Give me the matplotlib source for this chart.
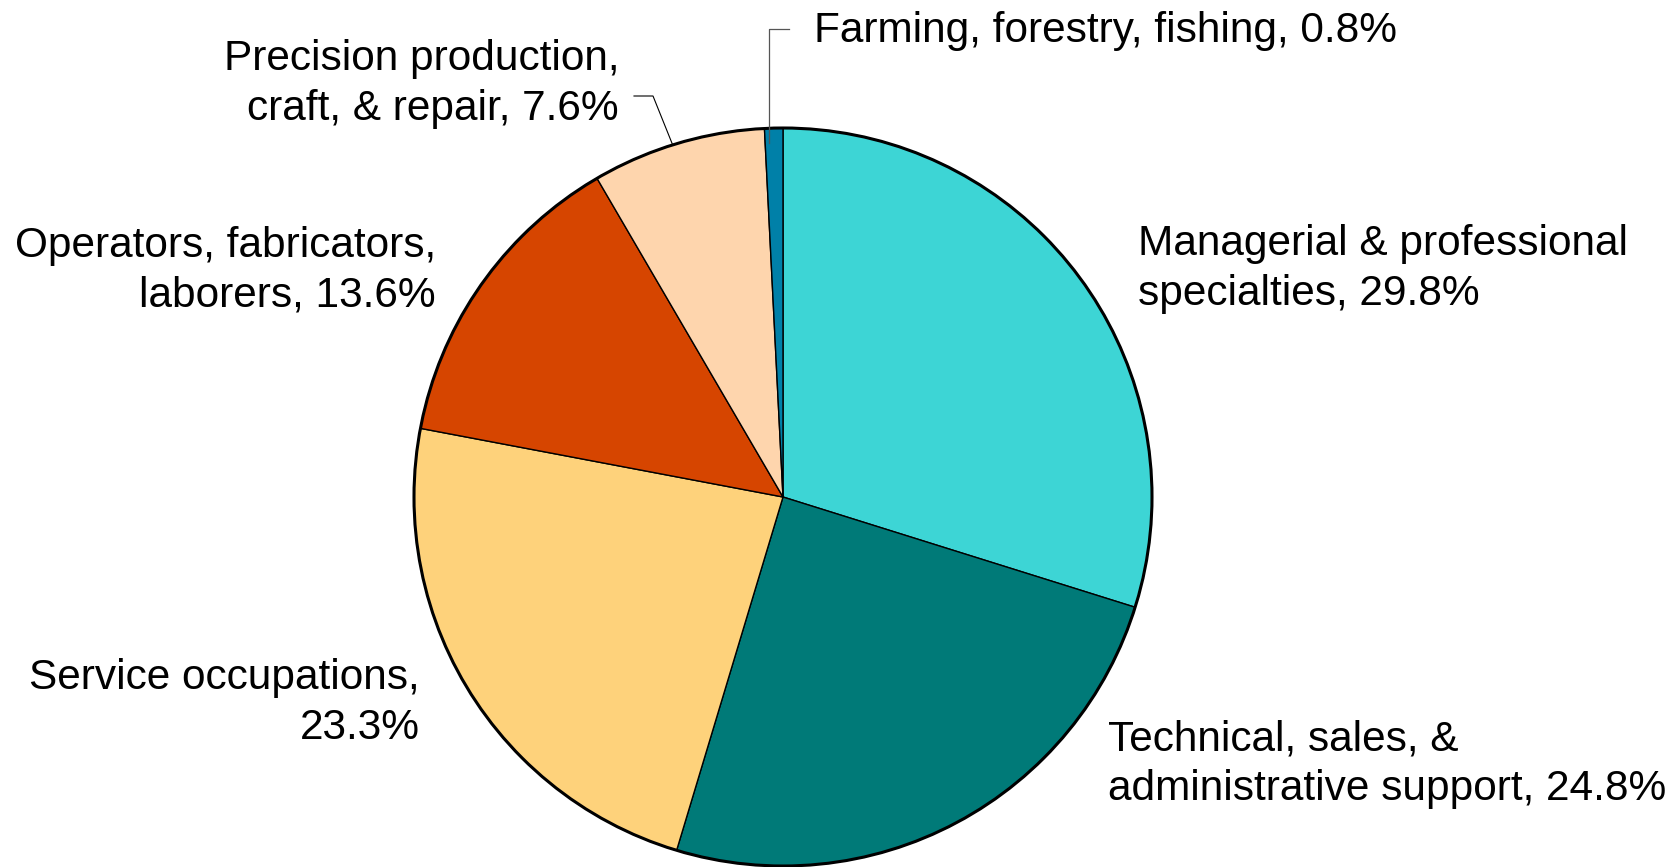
import matplotlib
matplotlib.use('Agg')
import matplotlib.pyplot as plt
import numpy as np

plt.rcParams['font.family'] = ['Liberation Sans', 'DejaVu Sans']

# occupation shares, clockwise from 12 o'clock
labels = ['Managerial & professional\nspecialties, 29.8%',
          'Technical, sales, &\nadministrative support, 24.8%',
          'Service occupations,\n23.3%',
          'Operators, fabricators,\nlaborers, 13.6%',
          'Precision production,\ncraft, & repair, 7.6%',
          'Farming, forestry, fishing, 0.8%']
shares = [29.8, 24.8, 23.3, 13.6, 7.6, 0.8]
colors = ['#3DD5D5', '#007A78', '#FED27B', '#D64500', '#FED5AD', '#0080A8']

W, H = 1679, 867
cx, cy, r = 783, H - 497, 369

fig = plt.figure(figsize=(W / 100, H / 100), dpi=100)
ax = fig.add_axes([0, 0, 1, 1])
ax.axis('off')

wedges, _ = ax.pie(shares, colors=colors, startangle=90, counterclock=False,
                   center=(cx, cy), radius=r, normalize=True,
                   wedgeprops=dict(edgecolor='black', linewidth=1.0))
ax.add_patch(plt.Circle((cx, cy), r, fill=False, edgecolor='black', linewidth=2.2))
ax.set_xlim(0, W)
ax.set_ylim(0, H)

fs = 30.5
ls = 1.32
# label anchors (pixel layout)
ax.text(1138, H - 269, labels[0], fontsize=fs, ha='left', va='center', linespacing=ls)
ax.text(1108, H - 764, labels[1], fontsize=fs, ha='left', va='center', linespacing=ls)
ax.text(420, H - 703, labels[2], fontsize=fs, ha='right', va='center', linespacing=ls,
        multialignment='right')
ax.text(436, H - 271, labels[3], fontsize=fs, ha='right', va='center', linespacing=ls,
        multialignment='right')
ax.text(619, H - 84, labels[4], fontsize=fs, ha='right', va='center', linespacing=ls,
        multialignment='right')
ax.text(814, H - 31, labels[5], fontsize=fs, ha='left', va='center')

# leader lines
def wedge_point(w, t, frac):
    lo, hi = sorted((w.theta1, w.theta2))
    ang = np.deg2rad(lo + t * (hi - lo))
    return cx + frac * r * np.cos(ang), cy + frac * r * np.sin(ang)

px, py = wedge_point(wedges[4], 0.53, 1.0)
ax.plot([634, 653, px], [H - 96, H - 96, py], color='black', linewidth=0.8)
fx, fy = wedge_point(wedges[5], 0.8, 0.96)
ax.plot([789, fx, fx], [H - 29, H - 29, fy], color='#555555', linewidth=0.9)

fig.savefig('out.png', dpi=100)
